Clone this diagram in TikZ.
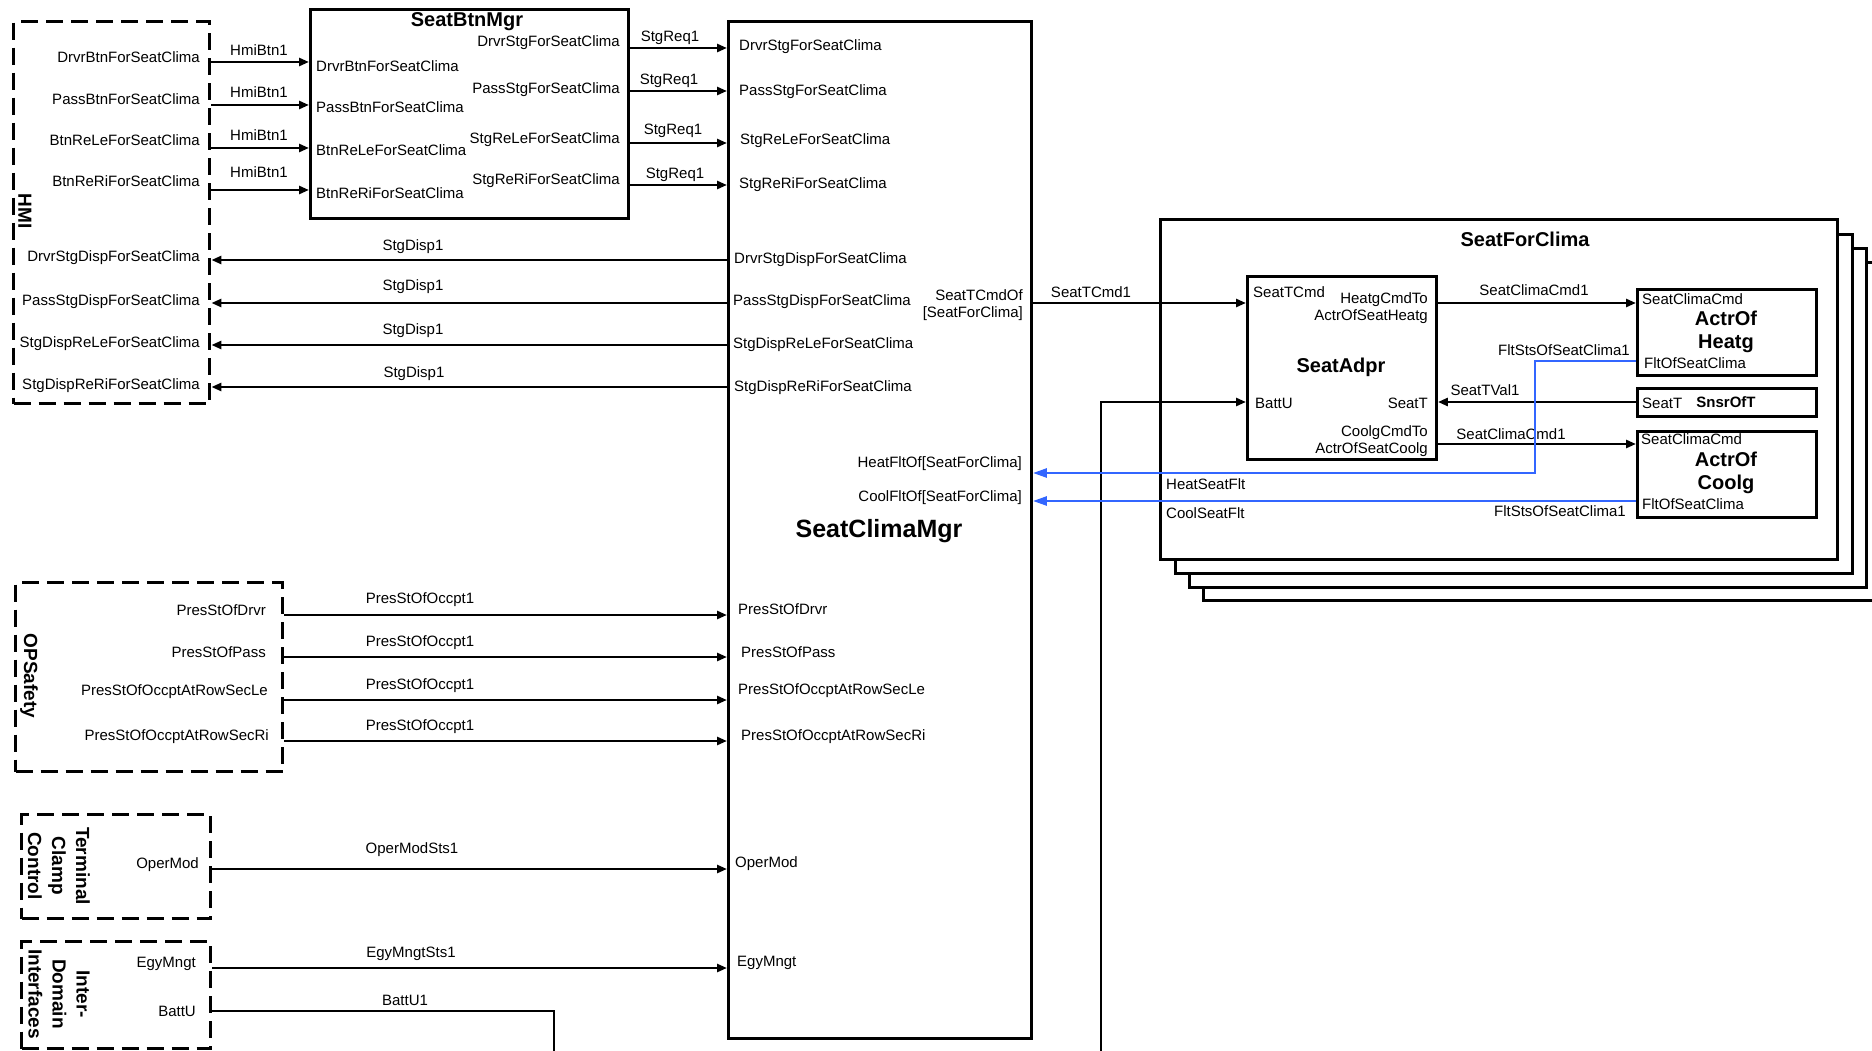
\documentclass[tikz,border=0pt]{standalone}
\usepackage{fontspec}
\setmainfont{Liberation Sans}
\usetikzlibrary{arrows.meta}
\definecolor{fltblue}{RGB}{51,102,255}
\tikzset{
  box/.style={draw, line width=2.9pt, anchor=north west, inner sep=0pt, fill=white},
  grpbox/.style={draw, line width=3.4pt, dash pattern=on 17pt off 8pt, anchor=north west, inner sep=0pt},
  lbl/.style={font=\fontsize{15}{17}\selectfont, inner sep=0pt},
  lblr/.style={lbl, anchor=east, align=right},
  lbll/.style={lbl, anchor=west, align=left},
  lblc/.style={lbl, anchor=center},
  ttl/.style={font=\fontsize{20}{23}\selectfont\bfseries, inner sep=0pt, align=center},
  bigttl/.style={font=\fontsize{25}{29}\selectfont\bfseries, inner sep=0pt},
  grpttl/.style={font=\fontsize{19}{24}\selectfont\bfseries, inner sep=0pt, rotate=-90, align=center},
  conn/.style={line width=2.8pt, -{Triangle[length=10pt,width=8pt]}},
  wire/.style={line width=2.8pt},
  bconn/.style={line width=2.6pt, draw=fltblue, -{Triangle[length=14pt,width=9pt]}},
}
\begin{document}
\begin{tikzpicture}[x=1pt,y=-1pt]
\useasboundingbox (0,0) rectangle (1872,1051);
\clip (0,0) rectangle (1872,1051);

% ---------- boxes ----------
\node[grpbox, minimum width=196pt, minimum height=382pt] (hmi) at (12,20) {};
\node[grpttl] (hmit) at (25,211) {HMI};

\node[box, minimum width=318pt, minimum height=209pt] (btn) at (309,8) {};
\node[ttl] (btnt) at (467,22) {SeatBtnMgr};

\node[box, minimum width=303pt, minimum height=1017pt] (mgr) at (727,20) {};
\node[bigttl] (mgrt) at (879,531) {SeatClimaMgr};

\node[box, minimum width=720pt, minimum height=338pt] (sfc4) at (1202,261) {};
\node[box, minimum width=677pt, minimum height=339pt] (sfc3) at (1188,247) {};
\node[box, minimum width=677pt, minimum height=339pt] (sfc2) at (1174,233) {};
\node[box, minimum width=677pt, minimum height=340pt] (sfc) at (1159,218) {};
\node[ttl] (sfct) at (1525,239) {SeatForClima};

\node[box, minimum width=189pt, minimum height=183pt] (adpr) at (1246,275) {};
\node[ttl] (adprt) at (1341,367) {SeatAdpr};
\node[box, minimum width=179pt, minimum height=86pt] (heat) at (1636,288) {};
\node[ttl] (heatt) at (1726,332) {ActrOf\\Heatg};
\node[box, minimum width=179pt, minimum height=28pt] (snsr) at (1636,387) {};
\node[lbl, font=\fontsize{15}{17}\selectfont\bfseries] (snsrt) at (1726,402) {SnsrOfT};
\node[box, minimum width=179pt, minimum height=86pt] (cool) at (1636,430) {};
\node[ttl] (coolt) at (1726,473) {ActrOf\\Coolg};

\node[grpbox, minimum width=267pt, minimum height=189pt] (ops) at (14,581) {};
\node[grpttl] (opst) at (29,676) {OPSafety};
\node[grpbox, minimum width=189pt, minimum height=104pt] (tcc) at (20,813) {};
\node[grpttl] (tcct) at (59,866) {Terminal\\Clamp\\Control};
\node[grpbox, minimum width=189pt, minimum height=107pt] (idi) at (20,940) {};
\node[grpttl] (idit) at (59,994) {Inter-\\Domain\\Interfaces};

% ---------- HMI labels ----------
\node[lblr] (hl1) at (200,57) {DrvrBtnForSeatClima};
\node[lblr] (hl2) at (200,99) {PassBtnForSeatClima};
\node[lblr] (hl3) at (200,140) {BtnReLeForSeatClima};
\node[lblr] (hl4) at (200,181) {BtnReRiForSeatClima};
\node[lblr] (hl5) at (200,258) {DrvrStgDispForSeatClima};
\node[lblr] (hl6) at (200,302) {PassStgDispForSeatClima};
\node[lblr] (hl7) at (200,344) {StgDispReLeForSeatClima};
\node[lblr] (hl8) at (200,386) {StgDispReRiForSeatClima};

\node[lblc] (hb1) at (259,50) {HmiBtn1};
\node[lblc] (hb2) at (259,92) {HmiBtn1};
\node[lblc] (hb3) at (259,135) {HmiBtn1};
\node[lblc] (hb4) at (259,172) {HmiBtn1};

% ---------- SeatBtnMgr ports ----------
\node[lbll] (bi1) at (316,66) {DrvrBtnForSeatClima};
\node[lbll] (bi2) at (316,107) {PassBtnForSeatClima};
\node[lbll] (bi3) at (316,150) {BtnReLeForSeatClima};
\node[lbll] (bi4) at (316,193) {BtnReRiForSeatClima};
\node[lblr] (bo1) at (620,43) {DrvrStgForSeatClima};
\node[lblr] (bo2) at (620,90) {PassStgForSeatClima};
\node[lblr] (bo3) at (620,140) {StgReLeForSeatClima};
\node[lblr] (bo4) at (620,181) {StgReRiForSeatClima};

\node[lblc] (sr1) at (670,38) {StgReq1};
\node[lblc] (sr2) at (669,81) {StgReq1};
\node[lblc] (sr3) at (673,131) {StgReq1};
\node[lblc] (sr4) at (675,175) {StgReq1};

% ---------- SeatClimaMgr ports ----------
\node[lbll] (mi1) at (739,47) {DrvrStgForSeatClima};
\node[lbll] (mi2) at (739,92) {PassStgForSeatClima};
\node[lbll] (mi3) at (740,141) {StgReLeForSeatClima};
\node[lbll] (mi4) at (739,185) {StgReRiForSeatClima};
\node[lbll] (md1) at (734,260) {DrvrStgDispForSeatClima};
\node[lbll] (md2) at (733,302) {PassStgDispForSeatClima};
\node[lbll] (md3) at (733,345) {StgDispReLeForSeatClima};
\node[lbll] (md4) at (734,388) {StgDispReRiForSeatClima};
\node[lblr] (mo1) at (1023,305) {SeatTCmdOf\\{[SeatForClima]}};
\node[lblr] (mo2) at (1022,464) {HeatFltOf[SeatForClima]};
\node[lblr] (mo3) at (1022,498) {CoolFltOf[SeatForClima]};
\node[lbll] (mp1) at (738,609) {PresStOfDrvr};
\node[lbll] (mp2) at (741,652) {PresStOfPass};
\node[lbll] (mp3) at (738,691) {PresStOfOccptAtRowSecLe};
\node[lbll] (mp4) at (741,737) {PresStOfOccptAtRowSecRi};
\node[lbll] (mp5) at (735,864) {OperMod};
\node[lbll] (mp6) at (737,963) {EgyMngt};

\node[lblc] (sd1) at (413,247) {StgDisp1};
\node[lblc] (sd2) at (413,287) {StgDisp1};
\node[lblc] (sd3) at (413,331) {StgDisp1};
\node[lblc] (sd4) at (414,374) {StgDisp1};

% ---------- lower groups ----------
\node[lblr] (ol1) at (266,610) {PresStOfDrvr};
\node[lblr] (ol2) at (266,652) {PresStOfPass};
\node[lblr] (ol3) at (268,692) {PresStOfOccptAtRowSecLe};
\node[lblr] (ol4) at (269,737) {PresStOfOccptAtRowSecRi};
\node[lblc] (po1) at (420,600) {PresStOfOccpt1};
\node[lblc] (po2) at (420,643) {PresStOfOccpt1};
\node[lblc] (po3) at (420,686) {PresStOfOccpt1};
\node[lblc] (po4) at (420,727) {PresStOfOccpt1};
\node[lblr] (tl1) at (199,865) {OperMod};
\node[lblc] (om1) at (412,850) {OperModSts1};
\node[lblr] (il1) at (196,964) {EgyMngt};
\node[lblc] (em1) at (411,954) {EgyMngtSts1};
\node[lblr] (il2) at (196,1011) {BattU};
\node[lblc] (bu1) at (405,1000) {BattU1};

% ---------- SeatForClima internals ----------
\node[lblc] (stc1) at (1091,292) {SeatTCmd1};
\node[lbll] (al1) at (1253,292) {SeatTCmd};
\node[lblr] (al2) at (1428,308) {HeatgCmdTo\\ActrOfSeatHeatg};
\node[lbll] (al3) at (1255,403) {BattU};
\node[lblr] (al4) at (1428,403) {SeatT};
\node[lblr] (al5) at (1428,441) {CoolgCmdTo\\ActrOfSeatCoolg};
\node[lbll] (hp1) at (1642,299) {SeatClimaCmd};
\node[lbll] (hp2) at (1644,363) {FltOfSeatClima};
\node[lbll] (sp1) at (1642,403) {SeatT};
\node[lbll] (cp1) at (1641,439) {SeatClimaCmd};
\node[lbll] (cp2) at (1642,504) {FltOfSeatClima};
\node[lblc] (sc1) at (1534,290) {SeatClimaCmd1};
\node[lblr] (fs1) at (1630,350) {FltStsOfSeatClima1};
\node[lblc] (tv1) at (1485,390) {SeatTVal1};
\node[lblc] (sc2) at (1511,434) {SeatClimaCmd1};
\node[lblr] (fs2) at (1626,511) {FltStsOfSeatClima1};
\node[lbll] (hsf) at (1166,484) {HeatSeatFlt};
\node[lbll] (csf) at (1166,513) {CoolSeatFlt};

% ---------- level coordinates ----------
\coordinate (ya1) at (0,62);  \coordinate (ya2) at (0,105);
\coordinate (ya3) at (0,148); \coordinate (ya4) at (0,190);
\coordinate (yb1) at (0,48);  \coordinate (yb2) at (0,91);
\coordinate (yb3) at (0,143); \coordinate (yb4) at (0,185);
\coordinate (yc1) at (0,260); \coordinate (yc2) at (0,303);
\coordinate (yc3) at (0,345); \coordinate (yc4) at (0,387);
\coordinate (yhf) at (0,361); \coordinate (bend) at (1535,473);
\coordinate (yt) at (0,402);  \coordinate (yk) at (0,444);
\coordinate (ycf) at (0,501);
\coordinate (yo1) at (0,615); \coordinate (yo2) at (0,657);
\coordinate (yo3) at (0,700); \coordinate (yo4) at (0,741);
\coordinate (yom) at (0,869); \coordinate (yeg) at (0,968);
\coordinate (bucorner) at (554,1011); \coordinate (bubot) at (554,1065);
\coordinate (bvbot) at (1101,1065);

% ---------- connectors ----------
\foreach \i in {1,2,3,4}{
  \draw[conn] (hmi.east |- ya\i) -- (btn.west |- ya\i);
  \draw[conn] (btn.east |- yb\i) -- (mgr.west |- yb\i);
  \draw[conn] (mgr.west |- yc\i) -- (hmi.east |- yc\i);
  \draw[conn] (ops.east |- yo\i) -- (mgr.west |- yo\i);
}
\draw[conn] (tcc.east |- yom) -- (mgr.west |- yom);
\draw[conn] (idi.east |- yeg) -- (mgr.west |- yeg);
\draw[wire] (idi.east |- bucorner) -- (bucorner) -- (bubot);

\draw[conn] (mgr.east |- yc2) -- (adpr.west |- yc2);
\draw[conn] (adpr.east |- yc2) -- (heat.west |- yc2);
\draw[conn] (snsr.west |- yt) -- (adpr.east |- yt);
\draw[conn] (adpr.east |- yk) -- (cool.west |- yk);
\draw[conn] (bvbot) |- (adpr.west |- yt);
\draw[bconn] (heat.west |- yhf) -| (bend) -- (mgr.east |- bend);
\draw[bconn] (cool.west |- ycf) -- (mgr.east |- ycf);
\end{tikzpicture}
\end{document}
